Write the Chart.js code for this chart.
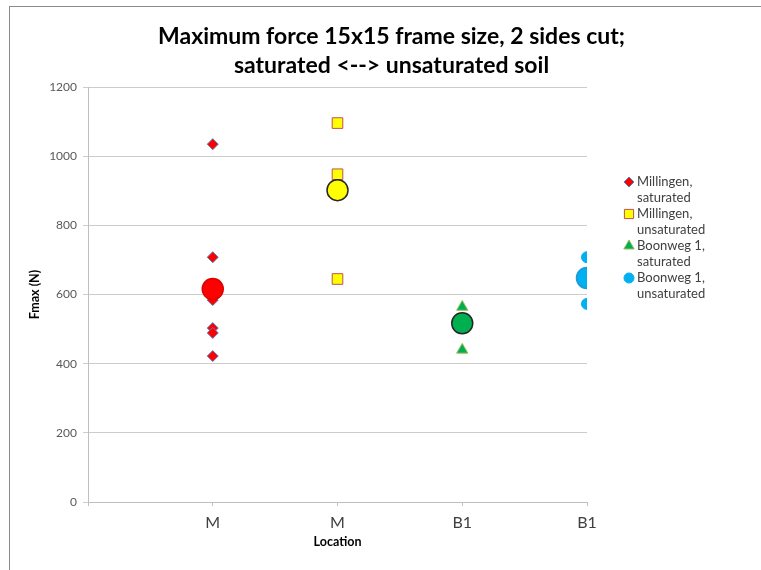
<!DOCTYPE html>
<html>
<head>
<meta charset="utf-8">
<script src="https://cdn.jsdelivr.net/npm/chart.js@4.4.1/dist/chart.umd.min.js"></script>
<style>
  html, body { margin: 0; padding: 0; background: #fff; }
  #frame { position: absolute; left: 9px; top: 6px; width: 760px; height: 570px;
           border-left: 1px solid #8a8a8a; border-top: 1px solid #8a8a8a; }
  #chart { position: absolute; left: 0; top: 0; }
</style>
</head>
<body>
<div id="frame"></div>
<canvas id="chart" width="761" height="570"></canvas>
<script>
// x positions 1..4, labels under each tick
const locationLabels = ['', 'M', 'M', 'B1', 'B1'];
const yTicks = [0, 200, 400, 600, 800, 1000, 1200];

// Fmax (N) per test
const millingenSat = [1035, 708, 584, 503, 489, 422];
const millingenUnsat = [1096, 948, 645];
const boonwegSat = [564, 440];
const boonwegUnsat = [708, 573];
// averages (big circles)
const averages = [616, 902, 517, 648];

const legendLabels = [
    ['Millingen,', 'saturated'],
    ['Millingen,', 'unsaturated'],
    ['Boonweg 1,', 'saturated'],
    ['Boonweg 1,', 'unsaturated']
];

const FONT = 'Lato, "Open Sans", sans-serif';

function atX(x, values) {
    return values.map(v => ({ x: x, y: v }));
}

// ----- legend on the right, drawn from the dataset styles ----- //
const sideLegend = {
    id: 'sideLegend',
    afterDraw(chart) {
        const ctx = chart.ctx;
        const markerR = [5, 6.5, 6, 5];
        ctx.save();
        legendLabels.forEach((lines, i) => {
            const ds = chart.data.datasets[i + 1];
            const y = 182 + i * 32;
            ctx.fillStyle = ds.backgroundColor;
            ctx.strokeStyle = ds.borderColor;
            ctx.lineWidth = 1;
            Chart.helpers.drawPoint(ctx, { pointStyle: ds.pointStyle, radius: markerR[i], borderWidth: 1, rotation: 0 }, 629, y);
            ctx.fillStyle = '#404040';
            ctx.font = '13px ' + FONT;
            ctx.textBaseline = 'middle';
            ctx.textAlign = 'left';
            lines.forEach((t, j) => ctx.fillText(t, 637, y + j * 16));
        });
        ctx.restore();
    }
};

new Chart(document.getElementById('chart'), {
    type: 'scatter',
    data: {
        datasets: [
            {
                label: 'Average',
                data: averages.map((v, i) => ({ x: i + 1, y: v })),
                pointStyle: 'circle',
                pointRadius: 10.5,
                pointBackgroundColor: ['#ff0000', '#ffff00', '#00b050', '#00b0f0'],
                pointBorderColor: ['#e00000', '#262626', '#262626', '#1c9ad6'],
                pointBorderWidth: 1.5
            },
            {
                label: 'Millingen, saturated',
                data: atX(1, millingenSat),
                pointStyle: 'rectRot',
                pointRadius: 5.5,
                backgroundColor: '#ff0000',
                borderColor: '#4f81bd',
                pointBorderWidth: 1
            },
            {
                label: 'Millingen, unsaturated',
                data: atX(2, millingenUnsat),
                pointStyle: 'rect',
                pointRadius: 7.5,
                backgroundColor: '#ffff00',
                borderColor: '#c0504d',
                pointBorderWidth: 1
            },
            {
                label: 'Boonweg 1, saturated',
                data: atX(3, boonwegSat),
                pointStyle: 'triangle',
                pointRadius: 6.5,
                backgroundColor: '#00b050',
                borderColor: '#9bbb59',
                pointBorderWidth: 1
            },
            {
                label: 'Boonweg 1, unsaturated',
                data: atX(4, boonwegUnsat),
                pointStyle: 'circle',
                pointRadius: 5.5,
                backgroundColor: '#00b0f0',
                borderColor: '#00b0f0',
                pointBorderWidth: 1
            }
        ]
    },
    options: {
        responsive: false,
        animation: false,
        layout: { padding: { left: 22, right: 0, top: 0, bottom: 0 } },
        plugins: {
            legend: { display: false },
            tooltip: { enabled: false },
            title: {
                display: true,
                text: ['Maximum force 15x15 frame size, 2 sides cut;', 'saturated <--> unsaturated soil'],
                color: '#000',
                font: { family: FONT, size: 23, weight: 'bold', lineHeight: 1.22 },
                padding: { top: 23, bottom: 8 }
            }
        },
        scales: {
            x: {
                type: 'linear',
                min: 0,
                max: 4,
                afterBuildTicks: s => { s.ticks = [0, 1, 2, 3, 4].map(v => ({ value: v })); },
                ticks: {
                    callback: v => locationLabels[v],
                    color: '#404040',
                    font: { family: FONT, size: 16 },
                    padding: 7,
                    maxRotation: 0
                },
                grid: { drawOnChartArea: false, tickLength: 4, color: '#bfbfbf' },
                border: { color: '#bfbfbf' },
                title: {
                    display: true,
                    text: 'Location',
                    color: '#000',
                    font: { family: FONT, size: 12.5, weight: 'bold' },
                    padding: { top: 0, bottom: 21 }
                },
                afterFit: s => { s.height = 68; }
            },
            y: {
                min: 0,
                max: 1200,
                afterBuildTicks: s => { s.ticks = yTicks.map(v => ({ value: v })); },
                ticks: {
                    callback: v => String(v),
                    color: '#595959',
                    font: { family: FONT, size: 12 },
                    padding: 6
                },
                grid: { color: '#cccccc', tickLength: 5 },
                border: { color: '#bfbfbf' },
                title: {
                    display: true,
                    text: 'Fmax (N)',
                    color: '#000',
                    font: { family: FONT, size: 12.5, weight: 'bold' },
                    padding: { top: 5, bottom: 0 }
                },
                afterFit: s => { s.width = 66; }
            },
            // empty right-hand axis that keeps room for the legend
            y2: {
                position: 'right',
                min: 0,
                max: 1200,
                display: true,
                ticks: { display: false },
                grid: { display: false, drawTicks: false },
                border: { display: false },
                afterFit: s => { s.width = 174; }
            }
        }
    },
    plugins: [sideLegend]
});
</script>
</body>
</html>
